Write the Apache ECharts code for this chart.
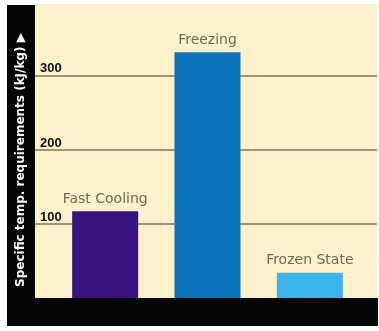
<!DOCTYPE html>
<html>
<head>
<meta charset="utf-8">
<script src="https://cdn.jsdelivr.net/npm/echarts@6/dist/echarts.min.js"></script>
<style>
  html, body { margin: 0; padding: 0; background: #fff; }
  #container { width: 379px; height: 331px; }
</style>
</head>
<body>
<div id="container"></div>
<script>
var categories = ['Fast Cooling', 'Freezing', 'Frozen State'];
var values = [117, 331, 34];
var barColors = ['#3b1380', '#0a72ba', '#3cb4ea'];
var tickValues = [100, 200, 300];
var yTitle = 'Specific temp. requirements (kJ/kg) \u25B6';

var dom = document.getElementById('container');
var myChart = echarts.init(dom);

var yMax = 396;
var barData = [];
for (var i = 0; i < values.length; i++) {
    barData.push({ value: values[i], itemStyle: { color: barColors[i] } });
}

var option = {
    backgroundColor: '#ffffff',
    animation: false,
    grid: [
        { left: 35, right: 2, top: 4, bottom: 33, show: true, backgroundColor: '#fdf1cd', borderWidth: 0 },
        { left: 54, right: 18, top: 4, bottom: 33 }
    ],
    xAxis: [
        { gridIndex: 0, type: 'value', min: 0, max: 1, show: false },
        { gridIndex: 1, type: 'category', data: categories, show: false }
    ],
    yAxis: [
        {
            gridIndex: 0, type: 'value', min: 0, max: yMax, interval: 100,
            axisLine: { show: false }, axisTick: { show: false },
            axisLabel: {
                inside: true, margin: 5, verticalAlign: 'bottom',
                fontFamily: 'Liberation Sans', fontWeight: 'bold', fontSize: 13, color: '#111',
                formatter: function (v) { return tickValues.indexOf(v) >= 0 ? String(v) : ''; }
            },
            splitLine: { showMinLine: false, showMaxLine: false, lineStyle: { color: '#85764e', width: 1.5 } }
        },
        { gridIndex: 1, type: 'value', min: 0, max: yMax, show: false }
    ],
    series: [{
        type: 'bar',
        xAxisIndex: 1,
        yAxisIndex: 1,
        barWidth: 66,
        data: barData,
        label: {
            show: true, position: 'top', distance: 5,
            formatter: function (p) { return p.name; },
            fontFamily: 'DejaVu Sans', fontSize: 14, color: '#74694f'
        }
    }],
    graphic: [
        { type: 'rect', z: 100, shape: { x: 7, y: 5, width: 28, height: 321 }, style: { fill: '#050505' } },
        { type: 'rect', z: 100, shape: { x: 7, y: 298, width: 371, height: 28 }, style: { fill: '#050505' } },
        {
            type: 'text', z: 101, x: 21, y: 160, rotation: Math.PI / 2,
            style: {
                text: yTitle, fill: '#ffffff', font: 'bold 12px "DejaVu Sans"',
                align: 'center', verticalAlign: 'middle'
            }
        }
    ]
};
myChart.setOption(option, true);
</script>
</body>
</html>
